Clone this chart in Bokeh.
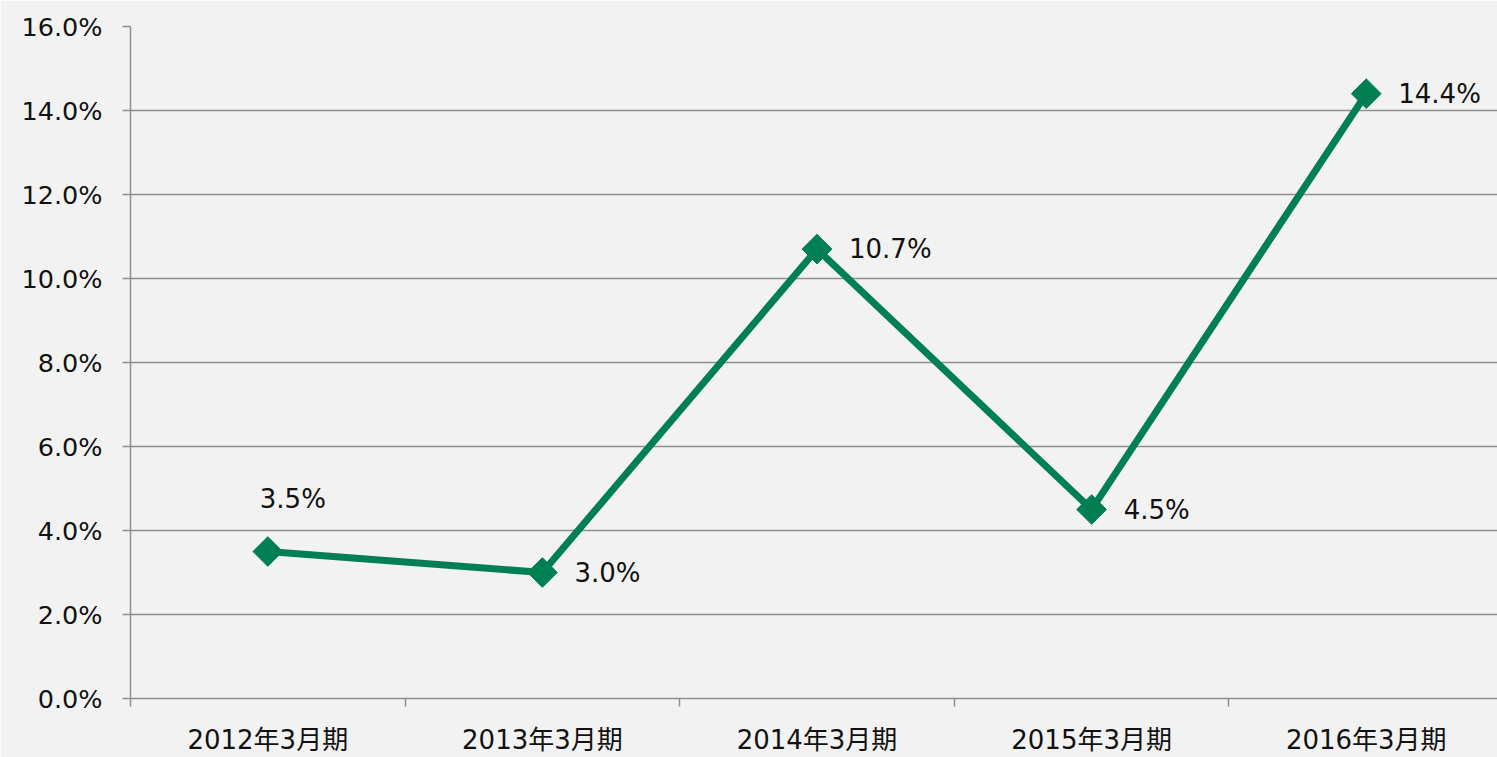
from bokeh.plotting import figure
from bokeh.models import Range1d, FixedTicker, PrintfTickFormatter, ColumnDataSource
from bokeh.core.properties import value
from bokeh.embed import file_html
from bokeh.resources import INLINE
import math

categories = ["2012年3月期", "2013年3月期", "2014年3月期", "2015年3月期", "2016年3月期"]
values = [3.5, 3.0, 10.7, 4.5, 14.4]
y_ticks = [0, 2, 4, 6, 8, 10, 12, 14, 16]
label_place = ["above", "right", "right", "right", "right"]

FONT = "DejaVu Sans, Noto Sans CJK JP"
GREEN = "#007f53"
GRID = "#8f8f8f"
BG = "#f2f2f2"

xs = [i + 0.5 for i in range(len(categories))]
labels = [f"{v:.1f}%" for v in values]
x_off = [25 if p == "above" else 32 for p in label_place]
y_off = [-53 if p == "above" else 0 for p in label_place]
align = ["center" if p == "above" else "left" for p in label_place]

src = ColumnDataSource(dict(x=xs, y=values, label=labels, xo=x_off, yo=y_off, al=align))

p = figure(width=1497, height=757, output_backend="svg", toolbar_location=None,
           x_range=Range1d(0, 4.978), y_range=Range1d(0, 16),
           min_border_left=130, min_border_right=0, min_border_top=26, min_border_bottom=59)
p.background_fill_color = BG
p.border_fill_color = BG
p.outline_line_color = None

# y axis
p.yaxis.ticker = FixedTicker(ticks=y_ticks)
p.yaxis.formatter = PrintfTickFormatter(format="%.1f%%")
p.yaxis.major_label_text_font = FONT
p.yaxis.major_label_text_font_size = "25.5px"
p.yaxis.major_label_text_color = "#111111"
p.yaxis.axis_line_color = GRID
p.yaxis.axis_line_width = 1.5
p.yaxis.major_tick_line_color = GRID
p.yaxis.major_tick_line_width = 1.5
p.yaxis.major_tick_out = 8
p.yaxis.major_tick_in = 0
p.yaxis.minor_tick_line_color = None
p.yaxis.major_label_standoff = 20

# x axis
p.xaxis.ticker = FixedTicker(ticks=xs, minor_ticks=list(range(len(categories) + 1)))
p.xaxis.major_label_overrides = {x: c for x, c in zip(xs, categories)}
p.xaxis.major_label_text_font = FONT
p.xaxis.major_label_text_font_size = "26px"
p.xaxis.major_label_text_color = "#111111"
p.xaxis.axis_line_color = GRID
p.xaxis.axis_line_width = 1.5
p.xaxis.major_tick_line_color = None
p.xaxis.major_tick_out = 8
p.xaxis.major_tick_in = 0
p.xaxis.minor_tick_line_color = GRID
p.xaxis.minor_tick_line_width = 1.5
p.xaxis.minor_tick_out = 8
p.xaxis.minor_tick_in = 0
p.xaxis.major_label_standoff = 18

p.xgrid.grid_line_color = None
p.ygrid.grid_line_color = GRID
p.ygrid.grid_line_width = 1.5
p.ygrid.ticker = FixedTicker(ticks=y_ticks)

p.line("x", "y", source=src, line_color=GREEN, line_width=7)
p.scatter("x", "y", source=src, marker="square", size=21, angle=math.pi / 4,
          fill_color=GREEN, line_color=GREEN)
p.text("x", "y", text="label", source=src, x_offset="xo", y_offset="yo",
       text_align="al", text_baseline="middle", text_font=value(FONT),
       text_font_size="26px", text_color="#111111")

open("out.html", "w").write(file_html(p, INLINE))
